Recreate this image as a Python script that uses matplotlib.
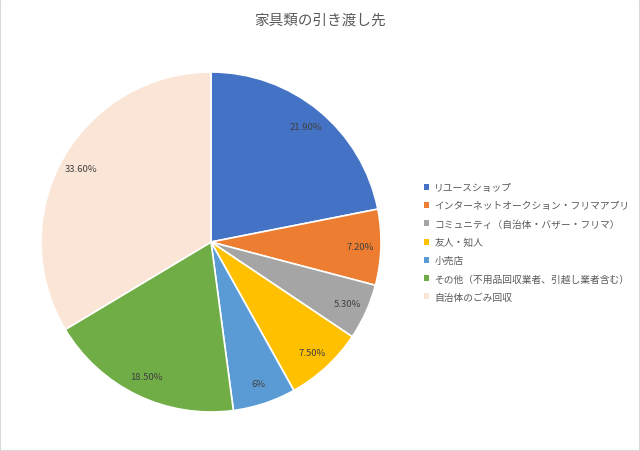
import matplotlib
matplotlib.use("Agg")
import matplotlib.pyplot as plt
from matplotlib.patches import Rectangle

plt.rcParams['font.family'] = ['Noto Sans CJK JP', 'DejaVu Sans']

title = "家具類の引き渡し先"
categories = ["リユースショップ", "インターネットオークション・フリマアプリ",
              "コミュニティ（自治体・バザー・フリマ）", "友人・知人", "小売店",
              "その他（不用品回収業者、引越し業者含む）", "自治体のごみ回収"]
values = [21.90, 7.20, 5.30, 7.50, 6, 18.50, 33.60]
value_labels = ["21.90%", "7.20%", "5.30%", "7.50%", "6%", "18.50%", "33.60%"]
colors = ["#4472C4", "#ED7D31", "#A5A5A5", "#FFC000", "#5B9BD5", "#70AD47", "#FBE5D6"]

fig = plt.figure(figsize=(6.4, 4.52), dpi=100)
fig.patches.append(Rectangle((0, 0), 1, 1, transform=fig.transFigure, fill=False,
                             edgecolor="#D9D9D9", linewidth=1.5))

ax = fig.add_axes([0.0641, 0.0863, 0.53125, 0.7522])
wedges, texts = ax.pie(values, colors=colors, startangle=90, counterclock=False,
                       labels=value_labels, labeldistance=0.88,
                       wedgeprops=dict(edgecolor="white", linewidth=1.2),
                       textprops=dict(fontsize=6.8, color="#404040"))
for t in texts:
    t.set_ha("center")
    t.set_va("center")
ax.set_aspect("equal")
ax.set_xlim(-1, 1)
ax.set_ylim(-1, 1)

fig.text(0.5, 0.955, title, ha="center", va="center", fontsize=10.5, color="#595959")

leg = fig.legend(wedges, categories, loc="upper left", bbox_to_anchor=(0.649, 0.614),
                 frameon=False, fontsize=7.0, labelcolor="#595959",
                 handlelength=0.55, handleheight=0.55, handletextpad=0.5,
                 labelspacing=0.85)
for h in leg.legend_handles:
    h.set_edgecolor("none")

fig.savefig("out.png", dpi=100)
